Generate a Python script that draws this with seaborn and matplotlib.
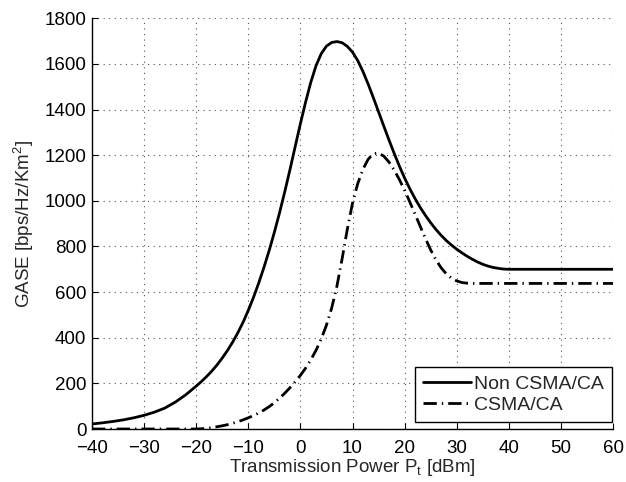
import matplotlib
matplotlib.use("Agg")
import matplotlib.pyplot as plt
import seaborn as sns
import pandas as pd

# Transmission power grid [dBm]
power_dbm = ([-40, -38, -36, -34, -32, -30, -28, -26, -24, -22, -20]
             + list(range(-19, 40))
             + [40, 45, 50, 55, 60])

# GASE without carrier sensing [bps/Hz/Km^2]
gase_non_csma = [
    22, 27, 33, 40, 49, 60, 74, 92, 118, 150, 188,
    208, 230, 254, 281, 311, 344, 381, 422, 468, 520,
    577, 640, 708, 782, 862, 948, 1040, 1137, 1238, 1338,
    1433, 1520, 1592, 1645, 1678, 1694, 1698, 1693, 1677, 1652,
    1615, 1567, 1512, 1452, 1390, 1328, 1267, 1208, 1152, 1100,
    1053, 1010, 971, 936, 904, 875, 849, 826, 806, 788,
    772, 757, 744, 732, 722, 714, 708, 704, 701,
    700, 700, 700, 700, 700,
]

# GASE with CSMA/CA [bps/Hz/Km^2]
gase_csma = [
    0, 0, 0, 0, 0, 0, 0, 0, 0, 0, 0,
    1, 3, 6, 10, 14, 19, 25, 32, 40, 49,
    59, 70, 83, 98, 115, 135, 157, 181, 207, 235,
    267, 303, 345, 395, 455, 530, 625, 745, 875, 990,
    1075, 1138, 1182, 1206, 1210, 1196, 1170, 1135, 1093, 1046,
    995, 942, 888, 835, 785, 742, 707, 680, 661, 649,
    642, 639, 638, 638, 638, 638, 638, 638, 638,
    638, 638, 638, 638, 638,
]

series_names = ["Non CSMA/CA", "CSMA/CA"]
x_ticks = list(range(-40, 61, 10))
y_ticks = list(range(0, 1801, 200))

df = pd.DataFrame({
    "power": power_dbm * 2,
    "gase": gase_non_csma + gase_csma,
    "scheme": [series_names[0]] * len(power_dbm) + [series_names[1]] * len(power_dbm),
})

sns.set_style("white")
plt.rcParams["font.family"] = ["Liberation Sans", "DejaVu Sans"]
plt.rcParams["mathtext.fontset"] = "custom"
plt.rcParams["mathtext.rm"] = "Liberation Sans"
plt.rcParams["mathtext.it"] = "Liberation Sans"
plt.rcParams["mathtext.bf"] = "Liberation Sans:bold"

fs = 13.5
fig = plt.figure(figsize=(6.26, 4.82), dpi=100)
ax = fig.add_axes([92 / 626, 1 - 429 / 482, 521 / 626, 410.7 / 482])

sns.lineplot(data=df[df.scheme == series_names[0]], x="power", y="gase",
             color="black", linewidth=2.0, ax=ax, label=series_names[0])
sns.lineplot(data=df[df.scheme == series_names[1]], x="power", y="gase",
             color="black", linewidth=2.0, ax=ax, label=series_names[1])
ax.lines[1].set_linestyle((0, (4.8, 1.8, 0.5, 1.8)))

ax.set_xlim(-40, 60)
ax.set_ylim(0, 1800)
ax.set_xticks(x_ticks)
ax.set_yticks(y_ticks)

ax.grid(True, linestyle=(0, (1, 4)), color="#555555", linewidth=0.8)
for side in ["top", "right"]:
    ax.spines[side].set_visible(False)
for side in ["left", "bottom"]:
    ax.spines[side].set_color("black")
    ax.spines[side].set_linewidth(1.0)

ax.tick_params(axis="both", direction="in", length=4, width=0.8,
               labelsize=fs, colors="black",
               top=False, right=False, bottom=True, left=True)
ax.tick_params(axis="y", pad=4)
ax.tick_params(axis="x", pad=8)

ax.set_xlabel("Transmission Power P$_t$ [dBm]", fontsize=fs, labelpad=0)
ax.set_ylabel("GASE [bps/Hz/Km$^2$]", fontsize=fs, labelpad=6)

leg = ax.legend(loc="lower right", bbox_to_anchor=(0.998, 0.017),
                borderaxespad=0, fontsize=14, frameon=True, fancybox=False,
                handlelength=2.5, handletextpad=0.15, labelspacing=0.2,
                borderpad=0.4, framealpha=1)
leg.get_frame().set_edgecolor("black")
leg.get_frame().set_linewidth(1.0)

fig.savefig("out.png", dpi=100, facecolor="white")
